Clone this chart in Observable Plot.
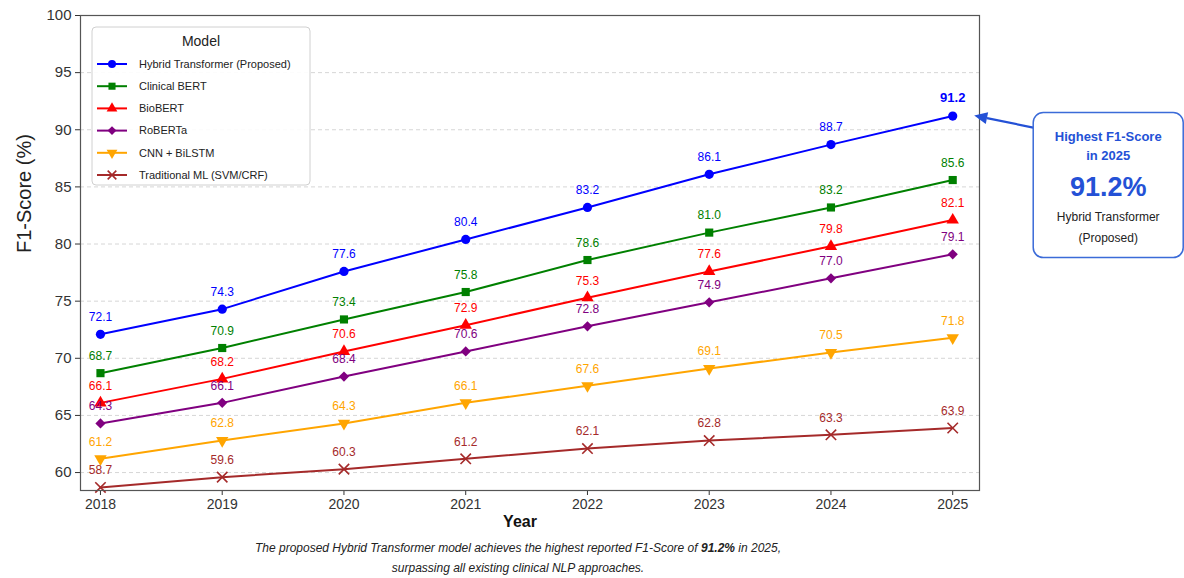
<!DOCTYPE html>
<html>
<head>
<meta charset="utf-8">
<script src="https://cdn.jsdelivr.net/npm/d3@7"></script>
<script src="https://cdn.jsdelivr.net/npm/@observablehq/plot@0.6"></script>
<style>
  html, body { margin: 0; padding: 0; background: #fff; }
  #wrap { position: relative; width: 1184px; height: 578px; font-family: "Liberation Sans", Arial, sans-serif; }
  #caption { position: absolute; left: 0; top: 538px; width: 1036px; text-align: center; font-style: italic; font-size: 12px; line-height: 20px; color: #222; }
</style>
</head>
<body>
<div id="wrap">
  <div id="chart"></div>
  <div id="caption">The proposed Hybrid Transformer model achieves the highest reported F1-Score of <b>91.2%</b> in 2025,<br>surpassing all existing clinical NLP approaches.</div>
</div>
<script>
const years = [2018, 2019, 2020, 2021, 2022, 2023, 2024, 2025];
const models = ["Hybrid Transformer (Proposed)", "Clinical BERT", "BioBERT", "RoBERTa", "CNN + BiLSTM", "Traditional ML (SVM/CRF)"];
const hybrid      = [72.1, 74.3, 77.6, 80.4, 83.2, 86.1, 88.7, 91.2];
const clinicalBert = [68.7, 70.9, 73.4, 75.8, 78.6, 81.0, 83.2, 85.6];
const bioBert     = [66.1, 68.2, 70.6, 72.9, 75.3, 77.6, 79.8, 82.1];
const roberta     = [64.3, 66.1, 68.4, 70.6, 72.8, 74.9, 77.0, 79.1];
const cnnBilstm   = [61.2, 62.8, 64.3, 66.1, 67.6, 69.1, 70.5, 71.8];
const traditional = [58.7, 59.6, 60.3, 61.2, 62.1, 62.8, 63.3, 63.9];
const colors = ["#0000ff", "#008000", "#ff0000", "#800080", "#ffa500", "#a52a2a"];
const yTicks = [60, 65, 70, 75, 80, 85, 90, 95, 100];

const series = [hybrid, clinicalBert, bioBert, roberta, cnnBilstm, traditional];
const data = models.flatMap((m, i) => years.map((yr, j) => ({model: m, year: yr, value: series[i][j]})));

const triDown = {
  draw(ctx, size) {
    const y = -Math.sqrt(size / (Math.sqrt(3) * 3));
    const s3 = Math.sqrt(3);
    ctx.moveTo(0, -y * 2);
    ctx.lineTo(-s3 * y, y);
    ctx.lineTo(s3 * y, y);
    ctx.closePath();
  }
};
const symbols = [d3.symbolCircle, d3.symbolSquare, d3.symbolTriangle, d3.symbolDiamond2, triDown, d3.symbolTimes];

const last = models[5];
const font = "Liberation Sans, Arial, sans-serif";

const plot = Plot.plot({
  width: 1184,
  height: 540,
  marginLeft: 80,
  marginTop: 15,
  marginRight: 205,
  marginBottom: 50,
  style: {fontFamily: font, fontSize: "14px", color: "#333", background: "#fff"},
  x: {domain: [2017.836, 2025.22]},
  y: {domain: [58.43, 100]},
  color: {domain: models, range: colors},
  symbol: {domain: models, range: symbols},
  marks: [
    Plot.gridY({ticks: yTicks, stroke: "#ccc", strokeOpacity: 0.8, strokeDasharray: "4,3"}),
    Plot.line(data, {x: "year", y: "value", z: "model", stroke: "model", strokeWidth: 2}),
    Plot.dot(data.filter(d => d.model !== last), {x: "year", y: "value", symbol: "model", fill: "model", r: 4.6}),
    Plot.dot(data.filter(d => d.model === last), {x: "year", y: "value", symbol: "model", stroke: "model", r: 4.8, strokeWidth: 1.6}),
    Plot.text(data.filter(d => !(d.model === models[0] && d.year === 2025)), {
      x: "year", y: "value", text: d => d.value.toFixed(1), fill: "model", dy: -17, fontSize: 12
    }),
    Plot.text(data.filter(d => d.model === models[0] && d.year === 2025), {
      x: "year", y: "value", text: d => d.value.toFixed(1), fill: "model", dy: -18, fontSize: 13, fontWeight: "bold"
    }),
    Plot.axisY({ticks: yTicks, tickSize: 5, label: null, fontSize: 15}),
    Plot.axisX({ticks: years, tickFormat: d => String(d), tickSize: 5, label: null, fontSize: 14}),
    Plot.text(["F1-Score (%)"], {frameAnchor: "left", rotate: -90, dx: -56, fontSize: 20, fill: "#222"}),
    Plot.text(["Year"], {frameAnchor: "bottom", dy: 36, dx: -10, fontSize: 16, fontWeight: "bold", fill: "#111"}),
    Plot.frame({stroke: "#555", strokeWidth: 1.2})
  ]
});

document.getElementById("chart").appendChild(plot);

// Legend and annotation overlays
const svg = d3.select(plot);
const xs = plot.scale("x"), ys = plot.scale("y");
const frameLeft = 80, frameTop = 15;

const lg = svg.append("g").attr("transform", `translate(${frameLeft + 12},${frameTop + 12})`).attr("font-family", font);
lg.append("rect").attr("width", 218).attr("height", 158).attr("rx", 4)
  .attr("fill", "#fff").attr("fill-opacity", 0.9).attr("stroke", "#d0d0d0");
lg.append("text").attr("x", 109).attr("y", 19).attr("text-anchor", "middle").attr("font-size", 14).attr("fill", "#222").text("Model");
models.forEach((m, i) => {
  const yy = 37 + i * 22.2;
  const g = lg.append("g").attr("transform", `translate(0,${yy})`);
  g.append("line").attr("x1", 5).attr("x2", 35).attr("stroke", colors[i]).attr("stroke-width", 2);
  const p = g.append("path").attr("transform", "translate(20,0)")
    .attr("d", d3.symbol(symbols[i], Math.PI * 16)());
  if (i === 5) p.attr("fill", "none").attr("stroke", colors[i]).attr("stroke-width", 1.6);
  else p.attr("fill", colors[i]);
  g.append("text").attr("x", 47).attr("dy", "0.35em").attr("text-anchor", "start").attr("font-size", 11).attr("fill", "#222").text(m);
});

// Annotation
const px = xs.apply(2025), py = ys.apply(hybrid[hybrid.length - 1]);
const bx = px + 81, by = py - 3, bw = 150, bh = 145;
const blue = "#2451d6";
const ag = svg.append("g").attr("font-family", font);
const tipX = px + 22, tipY = py, tailX = bx, tailY = by + 15;
const ang = Math.atan2(tipY - tailY, tipX - tailX);
const hl = 13, hw = 6;
const baseX = tipX - hl * Math.cos(ang), baseY = tipY - hl * Math.sin(ang);
ag.append("line").attr("x1", tailX).attr("y1", tailY).attr("x2", baseX).attr("y2", baseY).attr("stroke", blue).attr("stroke-width", 2.2);
ag.append("path").attr("fill", blue).attr("d",
  `M${tipX},${tipY}L${baseX + hw * Math.sin(ang)},${baseY - hw * Math.cos(ang)}L${baseX - hw * Math.sin(ang)},${baseY + hw * Math.cos(ang)}Z`);
ag.append("rect").attr("x", bx).attr("y", by).attr("width", bw).attr("height", bh).attr("rx", 10)
  .attr("fill", "#fff").attr("stroke", "#3b6bd8").attr("stroke-width", 1.5);
const cx = bx + bw / 2;
ag.append("text").attr("x", cx).attr("y", by + 28).attr("text-anchor", "middle").attr("font-size", 13).attr("font-weight", "bold").attr("fill", blue).text("Highest F1-Score");
ag.append("text").attr("x", cx).attr("y", by + 47).attr("text-anchor", "middle").attr("font-size", 13).attr("font-weight", "bold").attr("fill", blue).text("in 2025");
ag.append("text").attr("x", cx).attr("y", by + 83).attr("text-anchor", "middle").attr("font-size", 27).attr("font-weight", "bold").attr("fill", blue).text("91.2%");
ag.append("text").attr("x", cx).attr("y", by + 108).attr("text-anchor", "middle").attr("font-size", 12).attr("fill", "#222").text("Hybrid Transformer");
ag.append("text").attr("x", cx).attr("y", by + 129).attr("text-anchor", "middle").attr("font-size", 12).attr("fill", "#222").text("(Proposed)");
</script>
</body>
</html>
